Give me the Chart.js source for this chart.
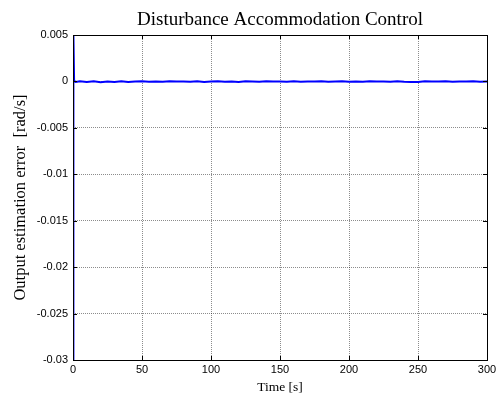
<!DOCTYPE html>
<html>
<head>
<meta charset="utf-8">
<script src="https://cdn.jsdelivr.net/npm/chart.js@4.4.1/dist/chart.umd.min.js"></script>
<style>
  html, body { margin: 0; padding: 0; background: #fff; }
  #wrap { width: 500px; height: 396px; position: relative; }
</style>
</head>
<body>
<div id="wrap"><canvas id="dac"></canvas></div>
<script>
// output estimation error of the disturbance accommodation observer
const timeS = [0, 0.3, 0.8, 2, 5, 10, 15, 20, 25, 30, 35, 40, 45, 50, 55, 60, 65, 70, 75, 80,
  85, 90, 95, 100, 105, 110, 115, 120, 125, 130, 135, 140, 145, 150, 155, 160, 165, 170,
  175, 180, 185, 190, 195, 200, 205, 210, 215, 220, 225, 230, 235, 240, 245, 250, 255,
  260, 265, 270, 275, 280, 285, 290, 295, 300];
const errRadS = [-0.03, 0.005, 0.00005, -0.00005, 0.00002, -0.00005, 0.00002, -0.00008, 0.0,
  -0.00005, 0.00002, -0.00006, 0.0, 0.00001, -0.00003, 0.0, -0.00004, 0.00002, -0.00002,
  0.0, -0.00003, 0.00002, -0.00005, 0.0, 0.00002, -0.00004, 0.0, -0.00006, 0.00001, 0.0,
  -0.00003, 0.00002, -0.00002, 0.0, -0.00004, 0.00001, -0.00003, 0.0, -0.00002, 0.00002,
  -0.00003, 0.0, 0.00001, -0.00003, 0.0, -0.00004, 0.00001, -0.00002, 0.0, -0.00003,
  0.00001, -0.00003, -0.00005, -0.00006, 0.00002, 0.0, -0.00002, 0.00002, -0.00003, 0.0,
  -0.00002, 0.00001, -0.00003, 0.0];
const xTicks = [0, 50, 100, 150, 200, 250, 300];
const yTicks = [0.005, 0, -0.005, -0.01, -0.015, -0.02, -0.025, -0.03];
const titleText = 'Disturbance Accommodation Control';

const serif = "'Liberation Serif', 'DejaVu Serif', serif";
const sans = "'Liberation Sans', Arial, sans-serif";

// title centred over the axes box, box outline and inward tick marks
const framePlugin = {
  id: 'frame',
  afterDraw(chart) {
    const { ctx, chartArea: a, scales } = chart;
    const len = 4;
    ctx.save();
    ctx.fillStyle = '#000';
    ctx.font = '19px ' + serif;
    ctx.textAlign = 'center';
    ctx.textBaseline = 'alphabetic';
    ctx.fillText(titleText, (a.left + a.right) / 2, 25);

    ctx.strokeStyle = '#000';
    ctx.lineWidth = 1;
    ctx.strokeRect(Math.round(a.left) + 0.5, Math.round(a.top) + 0.5,
      Math.round(a.right - a.left), Math.round(a.bottom - a.top));
    ctx.beginPath();
    xTicks.forEach(v => {
      const px = Math.round(scales.x.getPixelForValue(v)) + 0.5;
      ctx.moveTo(px, a.bottom); ctx.lineTo(px, a.bottom - len);
      ctx.moveTo(px, a.top); ctx.lineTo(px, a.top + len);
    });
    yTicks.forEach(v => {
      const py = Math.round(scales.y.getPixelForValue(v)) + 0.5;
      ctx.moveTo(a.left, py); ctx.lineTo(a.left + len, py);
      ctx.moveTo(a.right, py); ctx.lineTo(a.right - len, py);
    });
    ctx.stroke();
    ctx.restore();
  }
};

const gridStyle = {
  color: 'rgba(0,0,0,0.45)',
  lineWidth: 1,
  drawTicks: false,
};

new Chart(document.getElementById('dac').getContext('2d'), {
  type: 'line',
  data: {
    datasets: [{
      data: timeS.map((t, i) => ({ x: t, y: errRadS[i] })),
      borderColor: '#0000ff',
      borderWidth: 2,
      pointRadius: 0,
      tension: 0,
      fill: false,
    }],
  },
  options: {
    responsive: true,
    maintainAspectRatio: false,
    devicePixelRatio: 1,
    animation: false,
    layout: { padding: { left: 0, right: 13, top: 35, bottom: 0 } },
    plugins: {
      legend: { display: false },
      tooltip: { enabled: false },
      title: { display: false },
    },
    scales: {
      x: {
        type: 'linear',
        min: 0, max: 300,
        afterBuildTicks: s => { s.ticks = xTicks.map(v => ({ value: v })); },
        afterFit: s => { s.height = 36; },
        border: { display: false, dash: [1, 1] },
        grid: gridStyle,
        ticks: { color: '#000', font: { family: sans, size: 11 }, padding: 3, maxRotation: 0 },
        title: {
          display: true, text: 'Time [s]', color: '#000',
          font: { family: serif, size: 13.5 }, padding: { top: 0, bottom: 0 },
        },
      },
      y: {
        type: 'linear',
        min: -0.03, max: 0.005,
        afterBuildTicks: s => { s.ticks = yTicks.map(v => ({ value: v })); },
        afterFit: s => { s.width = 73; },
        border: { display: false, dash: [1, 1] },
        grid: gridStyle,
        ticks: {
          color: '#000', font: { family: sans, size: 11 }, padding: 5,
          callback: v => String(+v.toFixed(3)),
        },
        title: {
          display: true, text: 'Output estimation error  [rad/s]', color: '#000',
          font: { family: serif, size: 16.5 }, padding: { top: 11, bottom: 0 },
        },
      },
    },
  },
  plugins: [framePlugin],
});
</script>
</body>
</html>
